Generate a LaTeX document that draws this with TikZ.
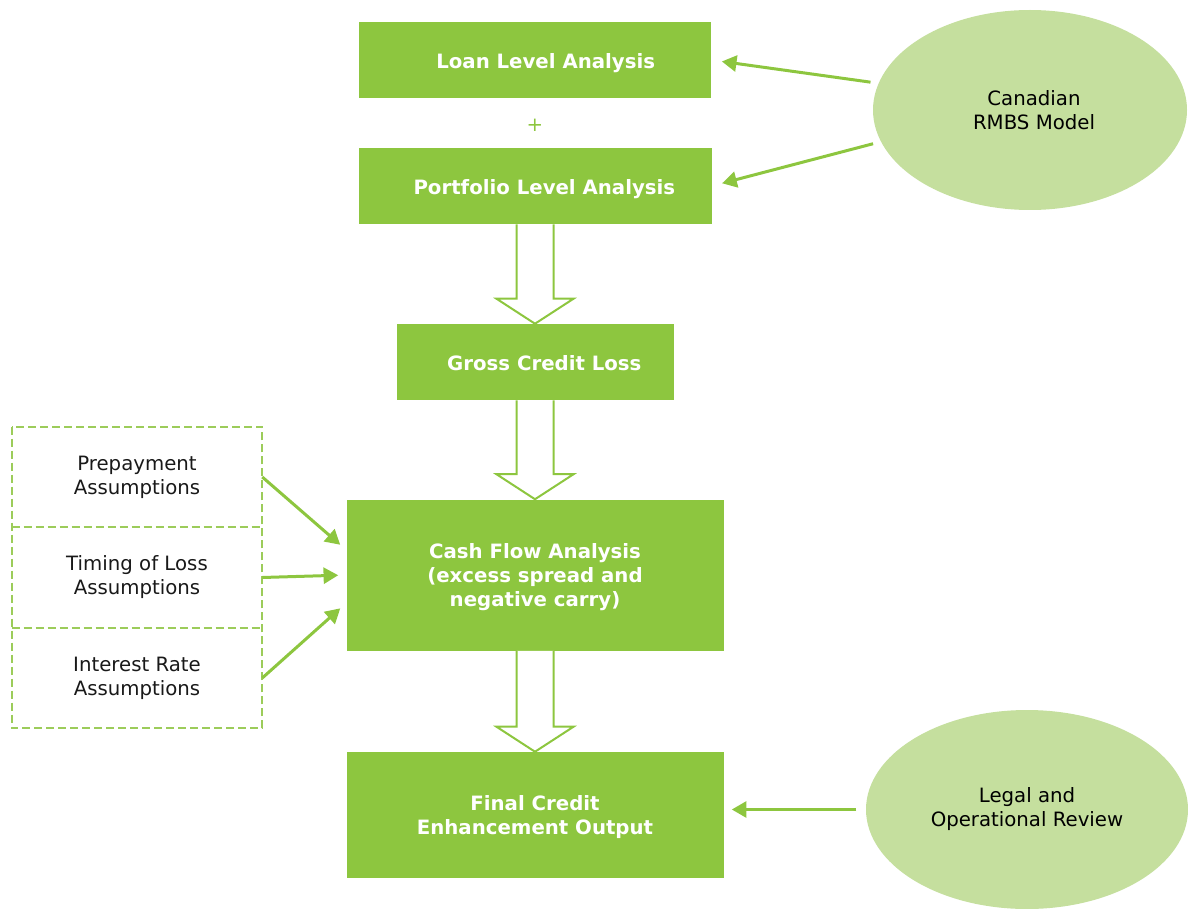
\documentclass[tikz,border=0pt]{standalone}
\usepackage{fontspec}
\setmainfont{DejaVu Sans}
\usetikzlibrary{shapes.geometric}
\usetikzlibrary{positioning}
\usetikzlibrary{arrows.meta}
\usetikzlibrary{calc}
\definecolor{leaf}{HTML}{8DC63F}
\definecolor{paleleaf}{HTML}{C5DF9E}
\definecolor{dashleaf}{HTML}{9CCC5A}
\newcommand{\diagfont}{\fontsize{14.8}{18}\selectfont}

\tikzset{
    stagebox/.style={fill=leaf, text=white, font=\diagfont\bfseries, align=center, inner sep=0pt, text depth=-2pt},
    onelinebox/.style={stagebox, text height=16pt, text depth=3.5pt},
    inputbox/.style={minimum width=187.5pt, minimum height=75pt, align=center, font=\diagfont, text=black!90},
    dashline/.style={draw=dashleaf, dash pattern=on 6pt off 3pt, line width=1.5pt},
    sourceoval/.style={ellipse, fill=paleleaf, align=center, font=\diagfont, inner sep=0pt},
    feed/.style={-{Triangle[length=11pt,width=12pt]}, draw=leaf, line width=2.25pt},
    hollow/.style={draw=leaf, line width=1.5pt, fill=white, line join=miter}
}

\begin{document}
\begin{tikzpicture}[x=0.75pt, y=-0.75pt]
            \useasboundingbox (0,0) rectangle (1188,909);

            % main chain
            \node[onelinebox, minimum width=264pt, minimum height=57pt] (loan) at (535,60) {\hspace{16pt}Loan Level Analysis};
            \node[text=leaf, font=\diagfont] (plus) at (535,125) {+};
            \node[onelinebox, minimum width=264.75pt, minimum height=57pt] (port) at (535,186) {\hspace{14pt}Portfolio Level Analysis};
            \node[onelinebox, minimum width=207.75pt, minimum height=57pt] (gross) at (535,362) {\hspace{14pt}Gross Credit Loss};
            \node[stagebox, minimum width=282.75pt, minimum height=113.25pt] (cash) at (535,575) {Cash Flow Analysis\\(excess spread and\\negative carry)};
            \node[stagebox, minimum width=282.75pt, minimum height=94.5pt] (final) at (535,815) {Final Credit\\Enhancement Output};

            % assumptions
            \node[inputbox] (pre) at (137,477) {Prepayment\\Assumptions};
            \node[inputbox, minimum height=75.75pt] (tim) at (137,577.5) {Timing of Loss\\Assumptions};
            \node[inputbox] (int) at (137,678) {Interest Rate\\Assumptions};
            \draw[dashline] (pre.north west) rectangle (int.south east);
            \draw[dashline] (pre.south west) -- (pre.south east);
            \draw[dashline] (tim.south west) -- (tim.south east);

            % sources
            \node[sourceoval, minimum width=235.5pt, minimum height=150pt] (canada) at (1030,110) {\hspace{6pt}Canadian\\\hspace{6pt}RMBS Model};
            \node[sourceoval, minimum width=241.5pt, minimum height=149.25pt] (legal) at (1027,809.5) {Legal and\\Operational Review};

            \foreach \a/\b in {port/gross, gross/cash, cash/final}
                \draw[hollow] ($(\a.south)+(-18.5,0)$) -- ($(\b.north)+(-18.5,-25)$) -- ($(\b.north)+(-38.5,-25)$) -- (\b.north) -- ($(\b.north)+(38.5,-25)$) -- ($(\b.north)+(18.5,-25)$) -- ($(\a.south)+(18.5,0)$);

            \draw[feed, shorten >=6pt] (pre.east) -- ([yshift=18.75pt]cash.west);
            \draw[feed, shorten >=6pt] (tim.east) -- (cash.west);
            \draw[feed, shorten >=6pt] (int.east) -- ([yshift=-21pt]cash.west);

            \draw[feed, shorten <=6pt, shorten >=8pt] (canada.170) -- (loan.east);
            \draw[feed, shorten <=6pt, shorten >=8pt] (canada.192) -- (port.east);
            \draw[feed, shorten <=7pt, shorten >=6pt] (legal.west) -- (final.east |- legal.west);
        \end{tikzpicture}
\end{document}
